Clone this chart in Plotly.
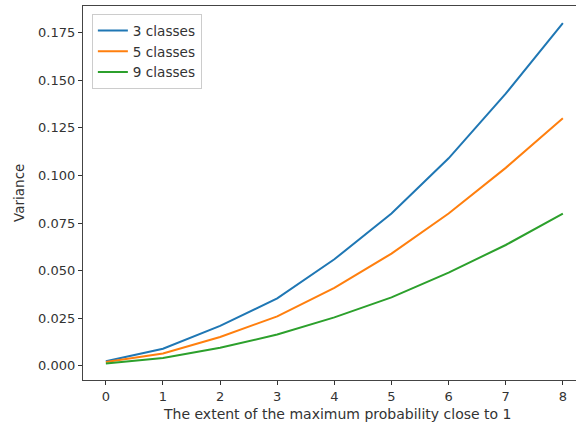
import plotly.graph_objects as go

# x positions: how far the maximum probability has been pushed toward 1
extent = [0, 1, 2, 3, 4, 5, 6, 7, 8]

# variance per number of classes
var_3 = [0.0025, 0.009, 0.021, 0.0355, 0.056, 0.080, 0.109, 0.143, 0.180]
var_5 = [0.0020, 0.0065, 0.0152, 0.026, 0.041, 0.059, 0.080, 0.104, 0.130]
var_9 = [0.0012, 0.0042, 0.0095, 0.0165, 0.0255, 0.036, 0.049, 0.0635, 0.080]

series_names = ["3 classes", "5 classes", "9 classes"]
colors = ["#1f77b4", "#ff7f0e", "#2ca02c"]

x_ticks = [0, 1, 2, 3, 4, 5, 6, 7, 8]
y_ticks = [0.000, 0.025, 0.050, 0.075, 0.100, 0.125, 0.150, 0.175]
y_tick_text = [f"{v:.3f}" for v in y_ticks]

font_family = "DejaVu Sans"

fig = go.Figure()
for name, ys, c in zip(series_names, [var_3, var_5, var_9], colors):
    fig.add_trace(go.Scatter(x=extent, y=ys, mode="lines", name=name,
                             line=dict(color=c, width=2)))

fig.update_layout(
    width=576, height=425,
    margin=dict(l=83, r=0, t=6, b=45),
    paper_bgcolor="white", plot_bgcolor="white",
    font=dict(family=font_family, size=13, color="#333333"),
    showlegend=True,
    legend=dict(x=0.018, y=0.978, xanchor="left", yanchor="top",
                bgcolor="rgba(255,255,255,0.8)", bordercolor="#cccccc",
                borderwidth=1, font=dict(size=13.6, color="#333333")),
    xaxis=dict(range=[-0.4, 8.23], tickvals=x_ticks, ticks="outside",
               ticklen=4, tickcolor="#333333", showgrid=False, zeroline=False,
               showline=True, linecolor="#444444", linewidth=1.2, mirror=True),
    yaxis=dict(range=[-0.0074, 0.189], tickvals=y_ticks, ticktext=y_tick_text,
               ticks="outside", ticklen=4, tickcolor="#333333",
               showgrid=False, zeroline=False, showline=True,
               linecolor="#444444", linewidth=1.2),
    annotations=[
        dict(text="The extent of the maximum probability close to 1",
             xref="paper", yref="paper", x=(337 - 83) / 493, y=-0.064,
             xanchor="center", yanchor="top", showarrow=False,
             font=dict(size=14, color="#333333")),
        dict(text="Variance", xref="paper", yref="paper",
             x=-0.13, y=0.5, xanchor="center", yanchor="middle",
             textangle=-90, showarrow=False,
             font=dict(size=13.5, color="#333333")),
    ],
)

fig.write_html("out.html")
